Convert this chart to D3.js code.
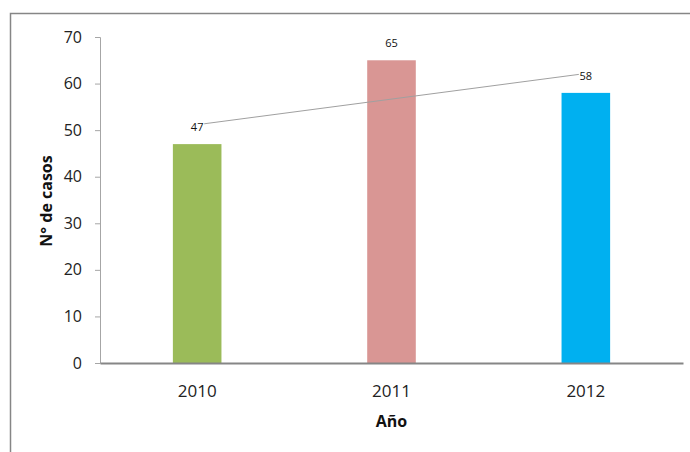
<!DOCTYPE html>
<html>
<head>
<meta charset="utf-8">
<script src="https://cdn.jsdelivr.net/npm/d3@7"></script>
<style>
  html, body { margin: 0; padding: 0; background: #fff; }
  svg { display: block; }
</style>
</head>
<body>
<svg id="chart" width="690" height="452"></svg>
<script>
// Casos por año
const years = ["2010", "2011", "2012"];
const cases = [47, 65, 58];
const barColors = ["#9BBB59", "#D99694", "#00B0F0"];
const yTickValues = [0, 10, 20, 30, 40, 50, 60, 70];

const svg = d3.select("#chart");
const W = 690, H = 452;
const plot = { left: 100, right: 683, top: 37, bottom: 363 };

svg.append("rect").attr("width", W).attr("height", H).attr("fill", "#fff");

// outer chart frame (right and bottom run past the page edge)
svg.append("rect")
  .attr("x", 10.5).attr("y", 13.5)
  .attr("width", W).attr("height", H)
  .attr("fill", "none")
  .attr("stroke", "#868686")
  .attr("stroke-width", 1.5);

const x = d3.scaleBand()
  .domain(years)
  .range([plot.left, plot.right])
  .paddingInner(0.75)
  .paddingOuter(0.375);

const y = d3.scaleLinear().domain([0, 70]).range([plot.bottom, plot.top]);

const font = "'Open Sans', sans-serif";

// bars
svg.append("g").selectAll("rect")
  .data(years)
  .join("rect")
  .attr("x", d => x(d))
  .attr("width", x.bandwidth())
  .attr("y", (d, i) => y(cases[i]))
  .attr("height", (d, i) => y(0) - y(cases[i]))
  .attr("fill", (d, i) => barColors[i]);

// y axis
const yAxis = svg.append("g")
  .attr("transform", `translate(${plot.left},0)`)
  .call(d3.axisLeft(y).tickValues(yTickValues).tickSize(5).tickPadding(13));
yAxis.select(".domain").attr("stroke", "#A6A6A6").attr("stroke-width", 1);
yAxis.selectAll(".tick line").attr("stroke", "#A6A6A6");
yAxis.selectAll(".tick text")
  .attr("font-family", font).attr("font-size", 16).attr("fill", "#222");

// x axis
const xAxis = svg.append("g")
  .attr("transform", `translate(0,${plot.bottom})`)
  .call(d3.axisBottom(x).tickSize(0).tickPadding(0));
xAxis.select(".domain").attr("stroke", "#868686").attr("stroke-width", 2);
xAxis.selectAll(".tick text")
  .attr("font-family", font).attr("font-size", 17).attr("fill", "#222")
  .attr("dy", null).attr("y", 34);

// linear trend line across the three years
const n = cases.length;
const xi = d3.range(n);
const mx = d3.mean(xi), my = d3.mean(cases);
const slope = d3.sum(xi, i => (i - mx) * (cases[i] - my)) / d3.sum(xi, i => (i - mx) ** 2);
const intercept = my - slope * mx;
const cx = d => x(d) + x.bandwidth() / 2;
svg.append("line")
  .attr("x1", cx(years[0])).attr("y1", y(intercept))
  .attr("x2", cx(years[n - 1])).attr("y2", y(intercept + slope * (n - 1)))
  .attr("stroke", "#A0A0A0").attr("stroke-width", 1);

// value labels
const labels = svg.append("g").selectAll("g")
  .data(years)
  .join("g")
  .attr("transform", (d, i) => `translate(${cx(d)},${y(cases[i]) - 13})`);
labels.append("rect")
  .attr("x", -7).attr("y", -9).attr("width", 14).attr("height", 11)
  .attr("fill", "#fff");
labels.append("text")
  .attr("text-anchor", "middle")
  .attr("font-family", font).attr("font-size", 11).attr("fill", "#111")
  .text((d, i) => cases[i]);

// axis titles
svg.append("text")
  .attr("transform", `translate(52,${(plot.top + plot.bottom) / 2 + 1}) rotate(-90)`)
  .attr("text-anchor", "middle")
  .attr("font-family", font).attr("font-size", 16).attr("font-weight", "bold")
  .attr("fill", "#111")
  .text("N° de casos");

svg.append("text")
  .attr("x", (plot.left + plot.right) / 2)
  .attr("y", 427)
  .attr("text-anchor", "middle")
  .attr("font-family", font).attr("font-size", 16).attr("font-weight", "bold")
  .attr("fill", "#111")
  .text("Año");
</script>
</body>
</html>
